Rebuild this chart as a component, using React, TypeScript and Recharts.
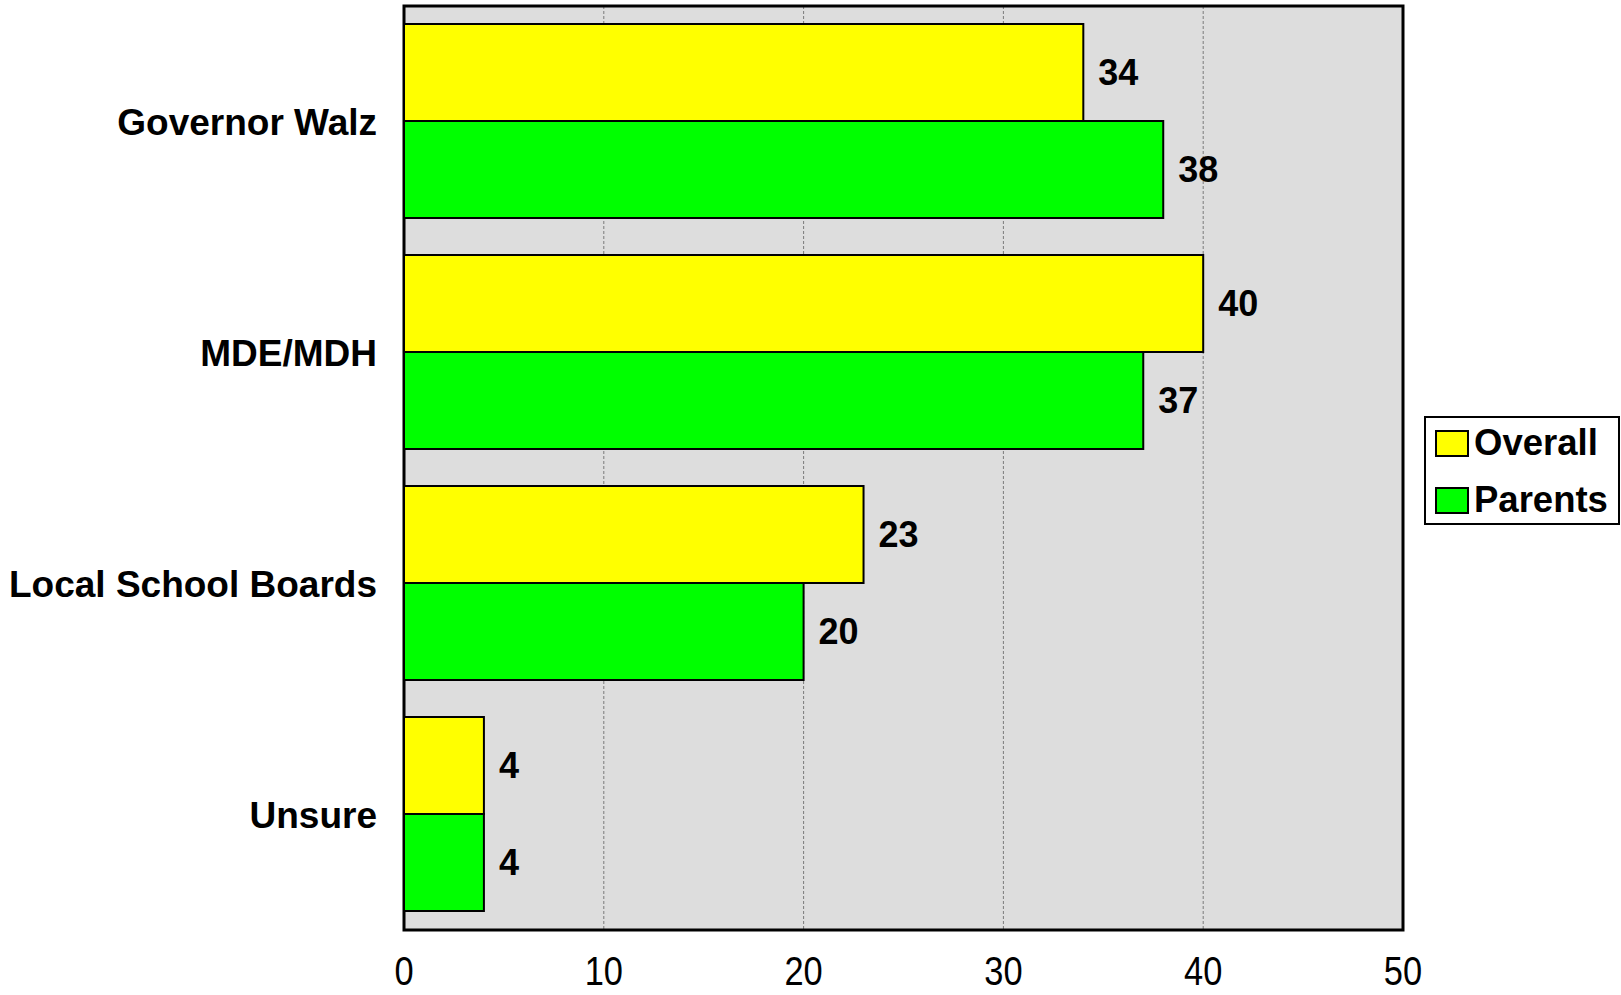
import { BarChart, Bar, XAxis, YAxis, CartesianGrid, LabelList, ReferenceArea } from 'recharts';

const categories = ['Governor Walz', 'MDE/MDH', 'Local School Boards', 'Unsure'];
const overall = [34, 40, 23, 4];
const parents = [38, 37, 20, 4];
const xTicks = [0, 10, 20, 30, 40, 50];

const data = categories.map((name, i) => ({ name, overall: overall[i], parents: parents[i] }));

const FONT = '"Liberation Sans", Arial, sans-serif';

// narrow-looking tick labels (no Arial Narrow available, so squeeze the regular face)
function NarrowTick(props: any) {
    const { x, y, payload } = props;
    return (
        <g transform={`translate(${x},${y}) scale(0.84,1)`}>
            <text x={0} y={0} dy="0.71em" textAnchor="middle" fontSize={41} fill="#000" fontFamily={FONT}>
                {payload.value}
            </text>
        </g>
    );
}

function LegendBox() {
    const items = [
        { label: 'Overall', color: '#FFFF00' },
        { label: 'Parents', color: '#00FF00' },
    ];
    return (
        <div style={{ position: 'absolute', left: 1424, top: 416, width: 192, height: 105, border: '2px solid #000', background: '#fff', fontFamily: FONT }}>
            {items.map((it, i) => (
                <div key={it.label} style={{ position: 'absolute', left: 9, top: 7 + i * 57, display: 'flex', alignItems: 'center' }}>
                    <div style={{ width: 30, height: 23, background: it.color, border: '2px solid #000' }} />
                    <span style={{ fontSize: 36.5, fontWeight: 'bold', marginLeft: 5, lineHeight: '36px' }}>{it.label}</span>
                </div>
            ))}
        </div>
    );
}

export default function App() {
    return (
        <div style={{ position: 'absolute', left: 0, top: 0, width: 1621, height: 995, background: '#fff' }}>
            <BarChart
                width={1621}
                height={995}
                data={data}
                layout="vertical"
                margin={{ top: 6, right: 218, bottom: 0, left: 0 }}
                barCategoryGap="7.8%"
                barGap={0}
            >
                <CartesianGrid horizontal={false} fill="#DDDDDD" fillOpacity={1} stroke="#7a7a7a" strokeDasharray="3 2" />
                <XAxis
                    type="number"
                    domain={[0, 50]}
                    ticks={xTicks}
                    height={65}
                    axisLine={false}
                    tickLine={false}
                    tickSize={0}
                    tickMargin={26}
                    tick={<NarrowTick />}
                    interval={0}
                />
                <YAxis
                    type="category"
                    dataKey="name"
                    width={404}
                    axisLine={false}
                    tickLine={false}
                    tickSize={0}
                    tickMargin={27}
                    tick={{ fontSize: 37, fontWeight: 'bold', fill: '#000', fontFamily: FONT }}
                    interval={0}
                />
                <Bar dataKey="overall" name="Overall" fill="#FFFF00" stroke="#000" strokeWidth={2} isAnimationActive={false}>
                    <LabelList dataKey="overall" position="right" offset={15} style={{ fontSize: 36, fontWeight: 'bold', fill: '#000', fontFamily: FONT }} />
                </Bar>
                <Bar dataKey="parents" name="Parents" fill="#00FF00" stroke="#000" strokeWidth={2} isAnimationActive={false}>
                    <LabelList dataKey="parents" position="right" offset={15} style={{ fontSize: 36, fontWeight: 'bold', fill: '#000', fontFamily: FONT }} />
                </Bar>
                <ReferenceArea x1={0} x2={50} fill="none" stroke="#000" strokeWidth={3} fillOpacity={0} ifOverflow="visible" />
            </BarChart>
            <LegendBox />
        </div>
    );
}
